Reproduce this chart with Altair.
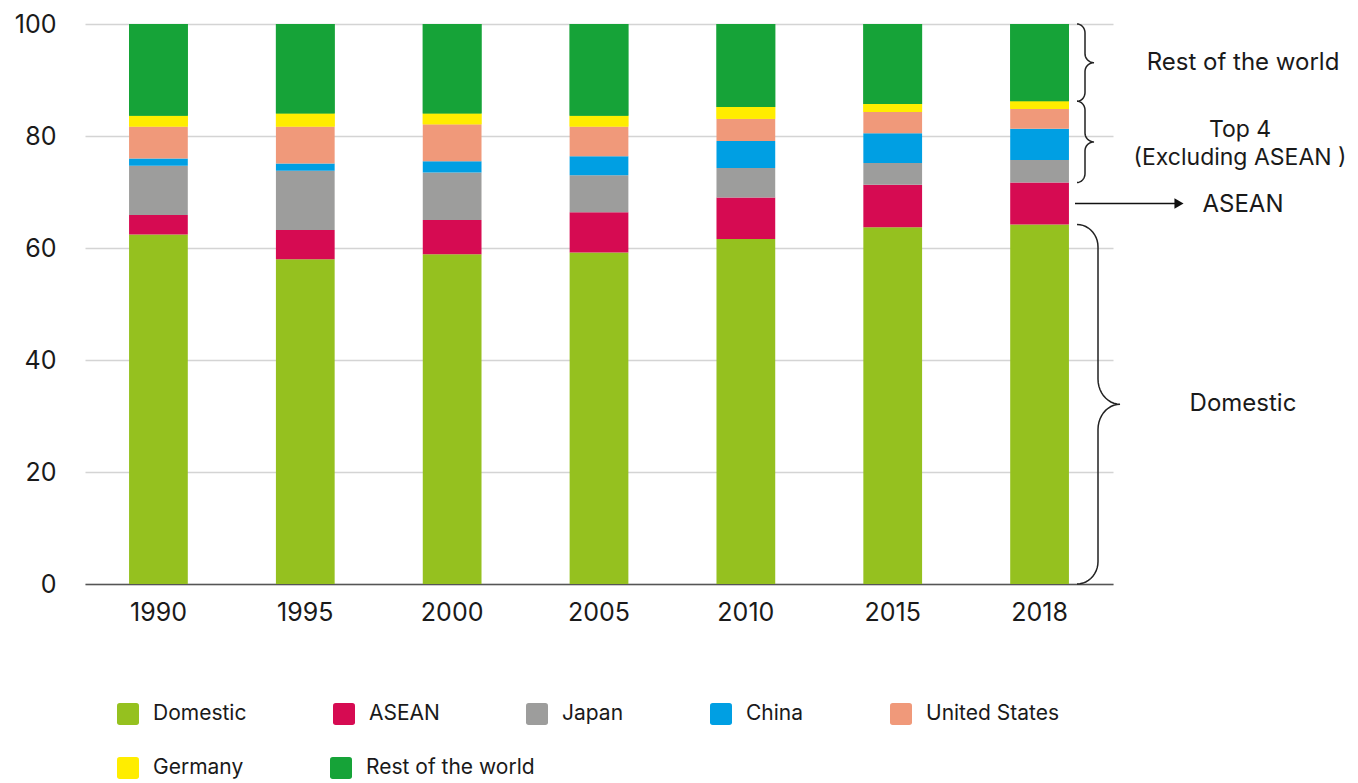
import altair as alt
import pandas as pd
import numpy as np

years = ["1990", "1995", "2000", "2005", "2010", "2015", "2018"]
categories = ["Domestic", "ASEAN", "Japan", "China", "United States", "Germany", "Rest of the world"]
colors = ["#95C11F", "#D60B52", "#9D9D9C", "#009FE3", "#F0997A", "#FFED00", "#16A338"]

domestic = [62.4, 58.0, 58.9, 59.2, 61.6, 63.7, 64.2]
asean = [3.5, 5.2, 6.1, 7.2, 7.4, 7.6, 7.5]
japan = [8.8, 10.6, 8.5, 6.6, 5.3, 3.9, 4.0]
china = [1.3, 1.3, 2.0, 3.4, 4.8, 5.3, 5.6]
united_states = [5.7, 6.6, 6.6, 5.3, 4.0, 3.8, 3.5]
germany = [1.9, 2.3, 1.9, 1.9, 2.1, 1.4, 1.4]
rest_of_world = [16.4, 16.0, 16.0, 16.4, 14.8, 14.3, 13.8]

series = [domestic, asean, japan, china, united_states, germany, rest_of_world]

# stacked table (cumulative bottoms/tops computed from the values)
rows = []
for yi, y in enumerate(years):
    base = 0.0
    for ci, (cat, vals) in enumerate(zip(categories, series)):
        v = vals[yi]
        rows.append({"year": y, "category": cat, "value": v, "ord": ci, "y0": base, "y1": base + v})
        base += v
df = pd.DataFrame(rows)

FONT = "Inter, Roboto, sans-serif"
TXT = "#1a1a1a"
W, H = 1028, 560

# annotation ranges derived from the last year's stack
last = {c: s[-1] for c, s in zip(categories, series)}
dom_top = last["Domestic"]
asean_top = dom_top + last["ASEAN"]
top4_top = asean_top + last["Japan"] + last["China"] + last["United States"] + last["Germany"]


def brace(bid, ybot, ytop, x0, xs, xt, r, rt):
    pts = []
    ymid = (ybot + ytop) / 2
    th = np.linspace(0, np.pi / 2, 12)
    for t in th:
        pts.append((x0 + (xs - x0) * np.sin(t), ytop - r + r * np.cos(t)))
    for t in th:
        pts.append((xt - (xt - xs) * np.cos(t), ymid + rt - rt * np.sin(t)))
    for t in th:
        pts.append((xt - (xt - xs) * np.sin(t), ymid - rt + rt * np.cos(t)))
    for t in th:
        pts.append((x0 + (xs - x0) * np.cos(t), ybot + r - r * np.sin(t)))
    return [{"bid": bid, "i": i, "bx": p[0], "by": p[1]} for i, p in enumerate(pts)]


brace_rows = []
brace_rows += brace("row", top4_top, 100, 992, 1000, 1009, 1.6, 1.6)
brace_rows += brace("top4", asean_top, top4_top, 992, 1000, 1009, 1.6, 1.6)
brace_rows += brace("dom", 0, dom_top, 992, 1013, 1035, 4.0, 4.5)
braces = pd.DataFrame(brace_rows)

labels = pd.DataFrame([
    {"txt": "Rest of the world", "ly": (top4_top + 100) / 2},
    {"txt": "Domestic", "ly": dom_top / 2},
])
top4_lbl = pd.DataFrame([{"txt": "Top 4\n(Excluding ASEAN )", "ly": (asean_top + top4_top) / 2}])
asean_lbl = pd.DataFrame([{"txt": "ASEAN", "ly": (dom_top + asean_top) / 2}])

rounded = "M -0.75 -1 H 0.75 Q 1 -1 1 -0.75 V 0.75 Q 1 1 0.75 1 H -0.75 Q -1 1 -1 0.75 V -0.75 Q -1 -1 -0.75 -1 Z"

legend_common = dict(title=None, orient="none", direction="horizontal", columnPadding=86,
                     symbolType=rounded, symbolSize=484, symbolStrokeWidth=0,
                     labelFontSize=21, labelFont=FONT, labelColor=TXT, labelOffset=14,
                     labelLimit=400)

xscale = alt.Scale(domain=years, paddingInner=0.6, paddingOuter=0.3)
xenc = alt.X("year:N", sort=years, scale=xscale,
             axis=alt.Axis(title=None, labelAngle=0, labelFontSize=25, labelFont=FONT,
                           labelColor=TXT, labelPadding=16, ticks=False,
                           domainColor="#555", domainWidth=1.5, grid=False))
yenc = alt.Y("y0:Q", scale=alt.Scale(domain=[0, 100], nice=False),
             axis=alt.Axis(title=None, values=[0, 20, 40, 60, 80, 100], labelFontSize=25,
                           labelFont=FONT, labelColor=TXT, labelPadding=29, ticks=False,
                           domain=False, grid=True, gridColor="#d4d4d4", gridWidth=1.5))

bars = alt.Chart(df).mark_bar().encode(
    x=xenc, y=yenc, y2="y1:Q",
    color=alt.Color("category:N", sort=categories,
                    scale=alt.Scale(domain=categories, range=colors),
                    legend=alt.Legend(values=categories[:5], legendX=32, legendY=679,
                                      **legend_common)),
)

bars_row2 = alt.Chart(df).transform_filter(
    alt.FieldOneOfPredicate(field="category", oneOf=categories[5:])
).mark_bar().encode(
    x=alt.X("year:N", sort=years, scale=xscale, axis=None),
    y=alt.Y("y0:Q"), y2="y1:Q",
    fill=alt.Fill("category:N", sort=categories[5:],
                  scale=alt.Scale(domain=categories[5:], range=colors[5:]),
                  legend=alt.Legend(legendX=32, legendY=733, **legend_common)),
)

brace_layer = alt.Chart(braces).mark_line(color="#222", strokeWidth=1.5, interpolate="linear").encode(
    x=alt.X("bx:Q", scale=alt.Scale(domain=[0, W], nice=False, zero=False), axis=None),
    y=alt.Y("by:Q"),
    detail="bid:N",
    order="i:Q",
)

text_layer = alt.Chart(labels).mark_text(font=FONT, fontSize=24, color=TXT, align="center",
                                          baseline="middle").encode(
    x=alt.value(1158), y=alt.Y("ly:Q"), text="txt:N")

top4_text = alt.Chart(top4_lbl).mark_text(font=FONT, fontSize=23, color=TXT, align="center",
                                           baseline="middle", lineBreak="\n", lineHeight=28,
                                           dy=-12).encode(
    x=alt.value(1155), y=alt.Y("ly:Q"), text="txt:N")

asean_text = alt.Chart(asean_lbl).mark_text(font=FONT, fontSize=24, color=TXT, align="center",
                                             baseline="middle", dy=2).encode(
    x=alt.value(1158), y=alt.Y("ly:Q"), text="txt:N")

arrow = alt.Chart(asean_lbl).mark_rule(color="#111", strokeWidth=1.5).encode(
    x=alt.value(990), x2=alt.value(1092), y=alt.Y("ly:Q"))

arrow_head = alt.Chart(asean_lbl).mark_point(shape="triangle-right", filled=True, color="#111",
                                              size=110, opacity=1).encode(
    x=alt.value(1094), y=alt.Y("ly:Q"))

chart = alt.layer(bars, bars_row2, brace_layer, arrow, arrow_head, text_layer, top4_text,
                  asean_text).resolve_scale(
    x="independent"
).properties(
    width=W, height=H,
    padding={"left": 77, "top": 16, "right": 237, "bottom": 199},
    autosize=alt.AutoSizeParams(type="none"),
).configure_view(stroke=None)

chart.save("out.html", embed_options={"renderer": "svg", "actions": False})
